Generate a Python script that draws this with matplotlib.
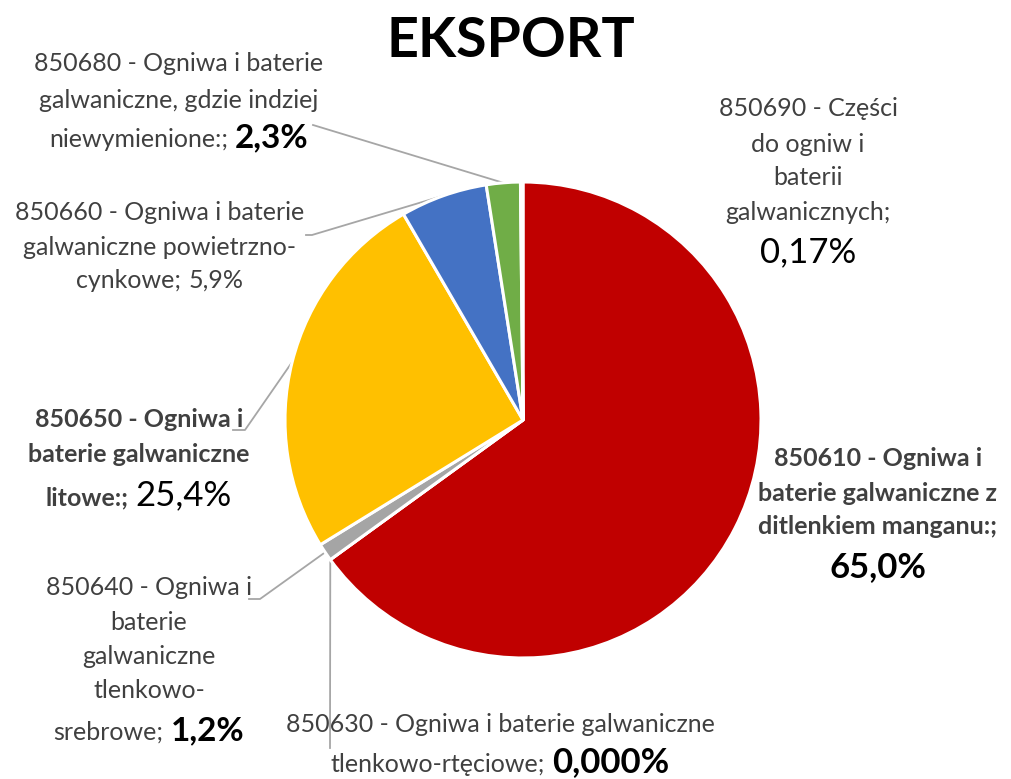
import numpy as np
import matplotlib.pyplot as plt

# slices clockwise from 12 o'clock
codes = ['850610', '850630', '850640', '850650', '850660', '850680', '850690']
shares = [65.0, 0.0, 1.2, 25.4, 5.9, 2.3, 0.17]
share_labels = ['65,0%', '0,000%', '1,2%', '25,4%', '5,9%', '2,3%', '0,17%']
colors = ['#C00000', '#7F7F7F', '#A5A5A5', '#FFC000', '#4472C4', '#70AD47', '#264478']

# label text: lines of (text, style); '%' is replaced by the share label
label_lines = [
    [[('850610 - Ogniwa i', 'nb')], [('baterie galwaniczne z', 'nb')],
     [('ditlenkiem manganu:;', 'nb')], [('%', 'pbL')]],
    [[('850630 - Ogniwa i baterie galwaniczne', 'n')],
     [('tlenkowo-rtęciowe;', 'n'), ('%', 'pbL')]],
    [[('850640 - Ogniwa i', 'n')], [('baterie', 'n')], [('galwaniczne', 'n')],
     [('tlenkowo-', 'n')], [('srebrowe;', 'n'), ('%', 'pb')]],
    [[('850650 - Ogniwa i', 'nb')], [('baterie galwaniczne', 'nb')],
     [('litowe:;', 'nb'), ('%', 'pL')]],
    [[('850660 - Ogniwa i baterie', 'n')], [('galwaniczne powietrzno-', 'n')],
     [('cynkowe;', 'n'), ('%', 'n')]],
    [[('850680 - Ogniwa i baterie', 'n')], [('galwaniczne, gdzie indziej', 'n')],
     [('niewymienione:;', 'n'), ('%', 'pb')]],
    [[('850690 - Części', 'n')], [('do ogniw i', 'n')], [('baterii', 'n')],
     [('galwanicznych;', 'n')], [('%', 'pL')]],
]

# layout in image pixels (x centre, baselines from top)
label_cx = [878, 500, 149, 139, 160, 179, 808]
label_base = [[466, 501, 534, 577], [732, 772], [595, 630, 664, 698, 740],
              [427, 462, 505], [220, 255, 288], [71, 108, 147],
              [116, 152, 185, 220, 262]]
leader_start = [None, [(330, 748)], [(249, 599), (260, 599)],
                [(233, 430), (245, 430)], [(306, 235), (312, 235)],
                [(313, 125)], None]

W, H = 1012, 779
FONT = 'Lato'
styles = {
    'n': dict(color='#404040', fontsize=18, fontweight='normal'),
    'nb': dict(color='#404040', fontsize=18, fontweight='bold'),
    'pb': dict(color='black', fontsize=24, fontweight='bold'),
    'pbL': dict(color='black', fontsize=25, fontweight='bold'),
    'pL': dict(color='black', fontsize=25, fontweight='normal'),
}

fig = plt.figure(figsize=(W / 100, H / 100), dpi=100)
ax = fig.add_axes([0, 0, 1, 1])

cx, cy, r = 523, H - 420, 238
wedges, _ = ax.pie(shares, colors=colors, startangle=90, counterclock=False,
                   center=(cx, cy), radius=r, frame=True,
                   wedgeprops=dict(edgecolor='white', linewidth=2.2))
ax.set_xlim(0, W)
ax.set_ylim(0, H)
ax.axis('off')

ax.text(511, H - 57, 'EKSPORT', ha='center', va='baseline', family=FONT,
        fontsize=40, fontweight='bold', color='black')

renderer = fig.canvas.get_renderer()
for i in range(len(codes)):
    for line, base in zip(label_lines[i], label_base[i]):
        objs = []
        for txt, st in line:
            if txt == '%':
                txt = share_labels[i]
            t = ax.text(0, H - base, txt, ha='left', va='baseline', family=FONT,
                        **styles[st])
            objs.append(t)
        widths = [t.get_window_extent(renderer).width for t in objs]
        gap = 7
        total = sum(widths) + gap * (len(objs) - 1)
        x = label_cx[i] - total / 2
        for t, w in zip(objs, widths):
            t.set_x(x)
            x += w + gap

    if leader_start[i] is not None:
        w = wedges[i]
        th = np.deg2rad((w.theta1 + w.theta2) / 2)
        pts = [(px, H - py) for px, py in leader_start[i]]
        pts.append((cx + r * np.cos(th), cy + r * np.sin(th)))
        xs, ys = zip(*pts)
        ax.plot(xs, ys, color='#A6A6A6', linewidth=1.3, zorder=0)

fig.savefig('out.png', dpi=100)
